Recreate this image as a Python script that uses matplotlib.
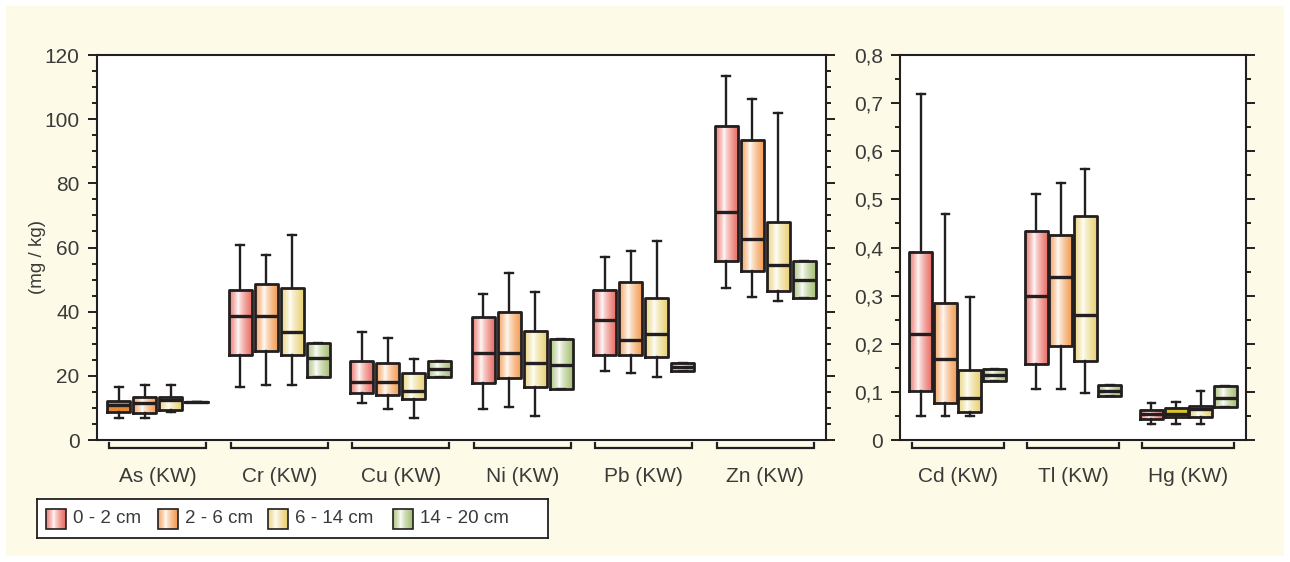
import numpy as np
import matplotlib
matplotlib.use('Agg')
import matplotlib.pyplot as plt
import matplotlib.transforms as mtransforms
from matplotlib.colors import to_rgb
from matplotlib.patches import Rectangle
from matplotlib.ticker import MultipleLocator, FuncFormatter

plt.rcParams['font.family'] = ['Liberation Sans', 'DejaVu Sans']

# depth series
depths = ['0 - 2 cm', '2 - 6 cm', '6 - 14 cm', '14 - 20 cm']
depth_colors = ['#e9675e', '#f3984a', '#e8cf6e', '#a1bc6e']

# left panel (mg/kg), one row per depth series
metals_left = ['As (KW)', 'Cr (KW)', 'Cu (KW)', 'Ni (KW)', 'Pb (KW)', 'Zn (KW)']
left_lo = [[7.0, 16.6, 11.4, 9.6, 21.5, 47.4],
           [7.0, 17.1, 9.6, 10.2, 20.8, 44.5],
           [8.6, 17.1, 7.0, 7.6, 19.7, 43.3]]
left_q1 = [[8.8, 26.5, 14.8, 17.9, 26.5, 55.8],
           [8.3, 27.8, 14.0, 19.2, 26.5, 52.7],
           [9.4, 26.5, 12.8, 16.6, 26.0, 46.3],
           [12.0, 19.7, 19.5, 15.9, 21.5, 44.4]]
left_med = [[10.8, 38.7, 18.0, 27.2, 37.4, 71.0],
            [11.4, 38.7, 18.0, 27.2, 31.2, 62.7],
            [12.5, 33.6, 15.3, 24.1, 33.0, 54.5],
            [12.0, 25.5, 22.0, 23.4, 22.9, 50.0]]
left_q3 = [[12.2, 46.8, 24.6, 38.4, 46.8, 98.0],
           [13.3, 48.6, 23.9, 39.8, 49.4, 93.6],
           [13.3, 47.3, 20.8, 34.1, 44.2, 67.8],
           [12.0, 30.1, 24.6, 31.5, 24.1, 55.8]]
left_hi = [[16.6, 60.8, 33.6, 45.6, 57.1, 113.5],
           [17.1, 57.7, 31.7, 52.0, 58.9, 106.4],
           [17.1, 63.9, 25.2, 46.2, 62.0, 102.0]]

# right panel
metals_right = ['Cd (KW)', 'Tl (KW)', 'Hg (KW)']
right_lo = [[0.050, 0.105, 0.033],
            [0.050, 0.105, 0.033],
            [0.049, 0.097, 0.033]]
right_q1 = [[0.101, 0.157, 0.043],
            [0.076, 0.195, 0.047],
            [0.059, 0.165, 0.047],
            [0.122, 0.092, 0.068]]
right_med = [[0.221, 0.300, 0.055],
             [0.169, 0.338, 0.055],
             [0.088, 0.260, 0.064],
             [0.135, 0.102, 0.088]]
right_q3 = [[0.390, 0.435, 0.063],
            [0.284, 0.427, 0.066],
            [0.146, 0.465, 0.071],
            [0.148, 0.114, 0.113]]
right_hi = [[0.720, 0.512, 0.076],
            [0.469, 0.533, 0.080],
            [0.298, 0.563, 0.102]]

# a couple of boxes in the original are printed flat
solid_fill = {('As (KW)', 0): '#e88a2c', ('Hg (KW)', 1): '#d8c52e'}

edge = '#231f20'
txt = '#3a3a3a'
cream = '#fdfbe7'


def grad_img(c):
    # colour at the edges, white a bit left of centre
    c = np.array(to_rgb(c))
    t = np.linspace(0, 1, 80)
    w = np.where(t < 0.38, 1 - t / 0.38, (t - 0.38) / 0.62)
    w = np.clip(w, 0, 1) ** 0.7
    w[t < 0.38] *= 0.85
    img = (1 - w[:, None]) * 1.0 + w[:, None] * c[None, :]
    return img[None, :, :]


def draw_panel(ax, labels, lo, q1, med, q3, hi, width):
    n = len(labels)
    for s in range(len(depths)):
        pos = np.arange(n) + (s - 1.5) * 0.213
        lo_s = lo[s] if s < len(lo) else q1[s]
        hi_s = hi[s] if s < len(hi) else q3[s]
        stats = [dict(whislo=lo_s[i], q1=q1[s][i], med=med[s][i], q3=q3[s][i],
                      whishi=hi_s[i]) for i in range(n)]
        ax.bxp(stats, positions=pos, widths=width, capwidths=0.066,
               showfliers=False, manage_ticks=False,
               boxprops=dict(color=edge, linewidth=2.0),
               medianprops=dict(color=edge, linewidth=2.4),
               whiskerprops=dict(color=edge, linewidth=1.7),
               capprops=dict(color=edge, linewidth=1.7))
        for i in range(n):
            if q3[s][i] <= q1[s][i]:
                continue
            key = (labels[i], s)
            if key in solid_fill:
                img = np.array(to_rgb(solid_fill[key]))[None, None, :]
            else:
                img = grad_img(depth_colors[s])
            ax.imshow(img, extent=(pos[i] - width / 2, pos[i] + width / 2, q1[s][i], q3[s][i]),
                      aspect='auto', zorder=1, interpolation='bilinear')

    trans = mtransforms.blended_transform_factory(ax.transData, ax.transAxes)
    h = ax.get_position().height * 562
    for i, lab in enumerate(labels):
        ax.plot([i - 0.4, i - 0.4, i + 0.4, i + 0.4],
                [-3 / h, -8 / h, -8 / h, -3 / h],
                transform=trans, clip_on=False, color=edge, lw=1.6,
                solid_joinstyle='miter')
        ax.text(i, -36 / h, lab, transform=trans, ha='center', va='center',
                fontsize=15, color=txt)
    ax.set_xlim(-0.5, n - 0.5)


def style(ax):
    for sp in ax.spines.values():
        sp.set_color(edge)
        sp.set_linewidth(1.5)
    ax.tick_params(axis='x', bottom=False, labelbottom=False)
    ax.tick_params(axis='y', which='major', direction='out', length=6.5, width=1.4,
                   color=edge, labelsize=15, labelcolor=txt, right=True,
                   labelright=False, pad=6)
    ax.tick_params(axis='y', which='minor', direction='out', length=3.8, width=1.4,
                   color=edge, right=True)


fig = plt.figure(figsize=(12.9, 5.62), dpi=100, facecolor='white')
fig.patches.append(Rectangle((6 / 1290, 6 / 562), 1278 / 1290, 550 / 562,
                             transform=fig.transFigure, facecolor=cream,
                             edgecolor='none', zorder=-10))

ax1 = fig.add_axes([97 / 1290, 1 - 440 / 562, 729 / 1290, 385 / 562])
ax2 = fig.add_axes([900 / 1290, 1 - 440 / 562, 346 / 1290, 385 / 562])

draw_panel(ax1, metals_left, left_lo, left_q1, left_med, left_q3, left_hi, 0.19)
draw_panel(ax2, metals_right, right_lo, right_q1, right_med, right_q3, right_hi, 0.20)

ax1.set_ylim(0, 120)
ax1.yaxis.set_major_locator(MultipleLocator(20))
ax1.yaxis.set_minor_locator(MultipleLocator(5))
ax2.set_ylim(0, 0.8)
ax2.yaxis.set_major_locator(MultipleLocator(0.1))
ax2.yaxis.set_minor_locator(MultipleLocator(0.05))
ax2.yaxis.set_major_formatter(FuncFormatter(
    lambda v, p: '0' if abs(v) < 1e-9 else ('%.1f' % v).replace('.', ',')))
style(ax1)
style(ax2)

fig.text(38 / 1290, 1 - 257 / 562, '(mg / kg)', rotation=90, ha='center',
         va='center', fontsize=13.5, color=txt)

# legend drawn by hand so the swatches keep the gradient
lax = fig.add_axes([37 / 1290, 1 - 538 / 562, 511 / 1290, 39 / 562])
lax.set_xticks([])
lax.set_yticks([])
for sp in lax.spines.values():
    sp.set_color(edge)
    sp.set_linewidth(1.3)
legend_x = [9, 121, 231, 356]
for x, lab, c in zip(legend_x, depths, depth_colors):
    lax.imshow(grad_img(c), extent=(x, x + 20, 9.5, 29.5), aspect='auto',
               interpolation='bilinear')
    lax.add_patch(Rectangle((x, 9.5), 20, 20, facecolor='none', edgecolor=edge, lw=1.2))
    lax.text(x + 27, 19.5, lab, ha='left', va='center', fontsize=13.5, color=txt)
lax.set_xlim(0, 511)
lax.set_ylim(0, 39)

fig.savefig('out.png', dpi=100, facecolor=fig.get_facecolor())
